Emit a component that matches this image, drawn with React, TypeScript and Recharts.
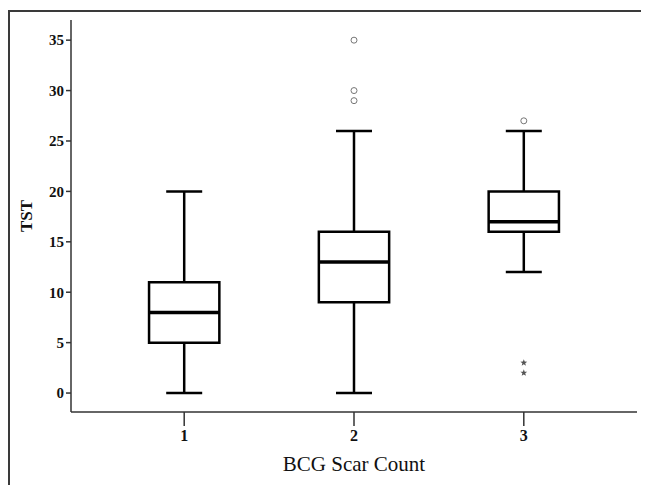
import {
  ComposedChart,
  XAxis,
  YAxis,
  Scatter,
  ReferenceArea,
  ReferenceLine,
  Label,
} from 'recharts'

// BCG scar count groups and their box statistics (TST, mm)
const categories = [1, 2, 3]
const mins = [0, 0, 12]
const q1s = [5, 9, 16]
const medians = [8, 13, 17]
const q3s = [11, 16, 20]
const maxs = [20, 26, 26]

// outliers (circles) and extremes (stars)
const outlierX = [2, 2, 2, 3]
const outlierY = [35, 30, 29, 27]
const extremeX = [3, 3]
const extremeY = [3, 2]

const yTicks = [0, 5, 10, 15, 20, 25, 30, 35]

const outliers = outlierX.map((x, i) => ({ x, y: outlierY[i] }))
const extremes = extremeX.map((x, i) => ({ x, y: extremeY[i] }))

const BOX_HALF = 0.207
const CAP_HALF = 0.106
const INK = '#000'
const AXIS = '#333'
const FRAME = '#3a3a3a'
const FONT = '"Liberation Serif", "Times New Roman", serif'

const Circle = (props: any) => (
  <circle cx={props.cx} cy={props.cy} r={3} fill='#fff' stroke='#777' strokeWidth={1} />
)

const Star = (props: any) => {
  const { cx, cy } = props
  const pts: string[] = []
  for (let i = 0; i < 10; i++) {
    const r = i % 2 === 0 ? 3.6 : 1.5
    const a = -Math.PI / 2 + (i * Math.PI) / 5
    pts.push(`${cx + r * Math.cos(a)},${cy + r * Math.sin(a)}`)
  }
  return <polygon points={pts.join(' ')} fill='#555' />
}

export default function App() {
  return (
    <div
      style={{
        position: 'relative',
        width: 641,
        height: 477,
        background: '#fff',
        overflow: 'hidden',
      }}
    >
      <style>{'html, body { overflow: hidden; }'}</style>
      {/* cropped figure frame: top and left edges only */}
      <div style={{ position: 'absolute', top: 2, left: 0, width: 641, height: 2, background: FRAME }} />
      <div style={{ position: 'absolute', top: 2, left: 0, width: 2, height: 475, background: FRAME }} />
      <div style={{ position: 'absolute', top: 0, left: 0 }}>
        <ComposedChart
          width={641}
          height={477}
          margin={{ top: 12, right: 12, bottom: 43, left: 13 }}
        >
          <XAxis
            type='number'
            dataKey='x'
            domain={[1 / 3, 11 / 3]}
            ticks={categories}
            allowDataOverflow
            height={30}
            tickSize={14}
            tickMargin={4}
            stroke={AXIS}
            strokeWidth={1.5}
            tick={{ fill: '#111', fontSize: 16, fontWeight: 'bold', fontFamily: FONT }}
          >
            <Label
              value='BCG Scar Count'
              position='bottom'
              offset={14}
              style={{ fill: '#111', fontSize: 21, fontFamily: FONT }}
            />
          </XAxis>
          <YAxis
            type='number'
            dataKey='y'
            domain={[-1.88, 37]}
            ticks={yTicks}
            allowDataOverflow
            width={50}
            tickSize={5}
            tickMargin={2}
            stroke={AXIS}
            strokeWidth={1.5}
            tick={{ fill: '#111', fontSize: 15, fontWeight: 'bold', fontFamily: FONT }}
          >
            <Label
              value='TST'
              angle={-90}
              position='center'
              dx={-20}
              style={{ fill: '#111', fontSize: 17, fontWeight: 'bold', fontFamily: FONT }}
            />
          </YAxis>

          {categories.map((c, i) => (
            <ReferenceArea
              key={`box-${c}`}
              x1={c - BOX_HALF}
              x2={c + BOX_HALF}
              y1={q1s[i]}
              y2={q3s[i]}
              fill='none'
              fillOpacity={0}
              stroke={INK}
              strokeWidth={2.5}
            />
          ))}
          {categories.map((c, i) => (
            <ReferenceLine
              key={`med-${c}`}
              segment={[{ x: c - BOX_HALF, y: medians[i] }, { x: c + BOX_HALF, y: medians[i] }]}
              stroke={INK}
              strokeWidth={3.5}
            />
          ))}
          {categories.map((c, i) => (
            <ReferenceLine
              key={`wu-${c}`}
              segment={[{ x: c, y: q3s[i] }, { x: c, y: maxs[i] }]}
              stroke={INK}
              strokeWidth={2.5}
            />
          ))}
          {categories.map((c, i) => (
            <ReferenceLine
              key={`wl-${c}`}
              segment={[{ x: c, y: mins[i] }, { x: c, y: q1s[i] }]}
              stroke={INK}
              strokeWidth={2.5}
            />
          ))}
          {categories.map((c, i) => (
            <ReferenceLine
              key={`cu-${c}`}
              segment={[{ x: c - CAP_HALF, y: maxs[i] }, { x: c + CAP_HALF, y: maxs[i] }]}
              stroke={INK}
              strokeWidth={2.5}
            />
          ))}
          {categories.map((c, i) => (
            <ReferenceLine
              key={`cl-${c}`}
              segment={[{ x: c - CAP_HALF, y: mins[i] }, { x: c + CAP_HALF, y: mins[i] }]}
              stroke={INK}
              strokeWidth={2.5}
            />
          ))}

          <Scatter data={outliers} dataKey='y' shape={Circle} isAnimationActive={false} />
          <Scatter data={extremes} dataKey='y' shape={Star} isAnimationActive={false} />
        </ComposedChart>
      </div>
    </div>
  )
}
